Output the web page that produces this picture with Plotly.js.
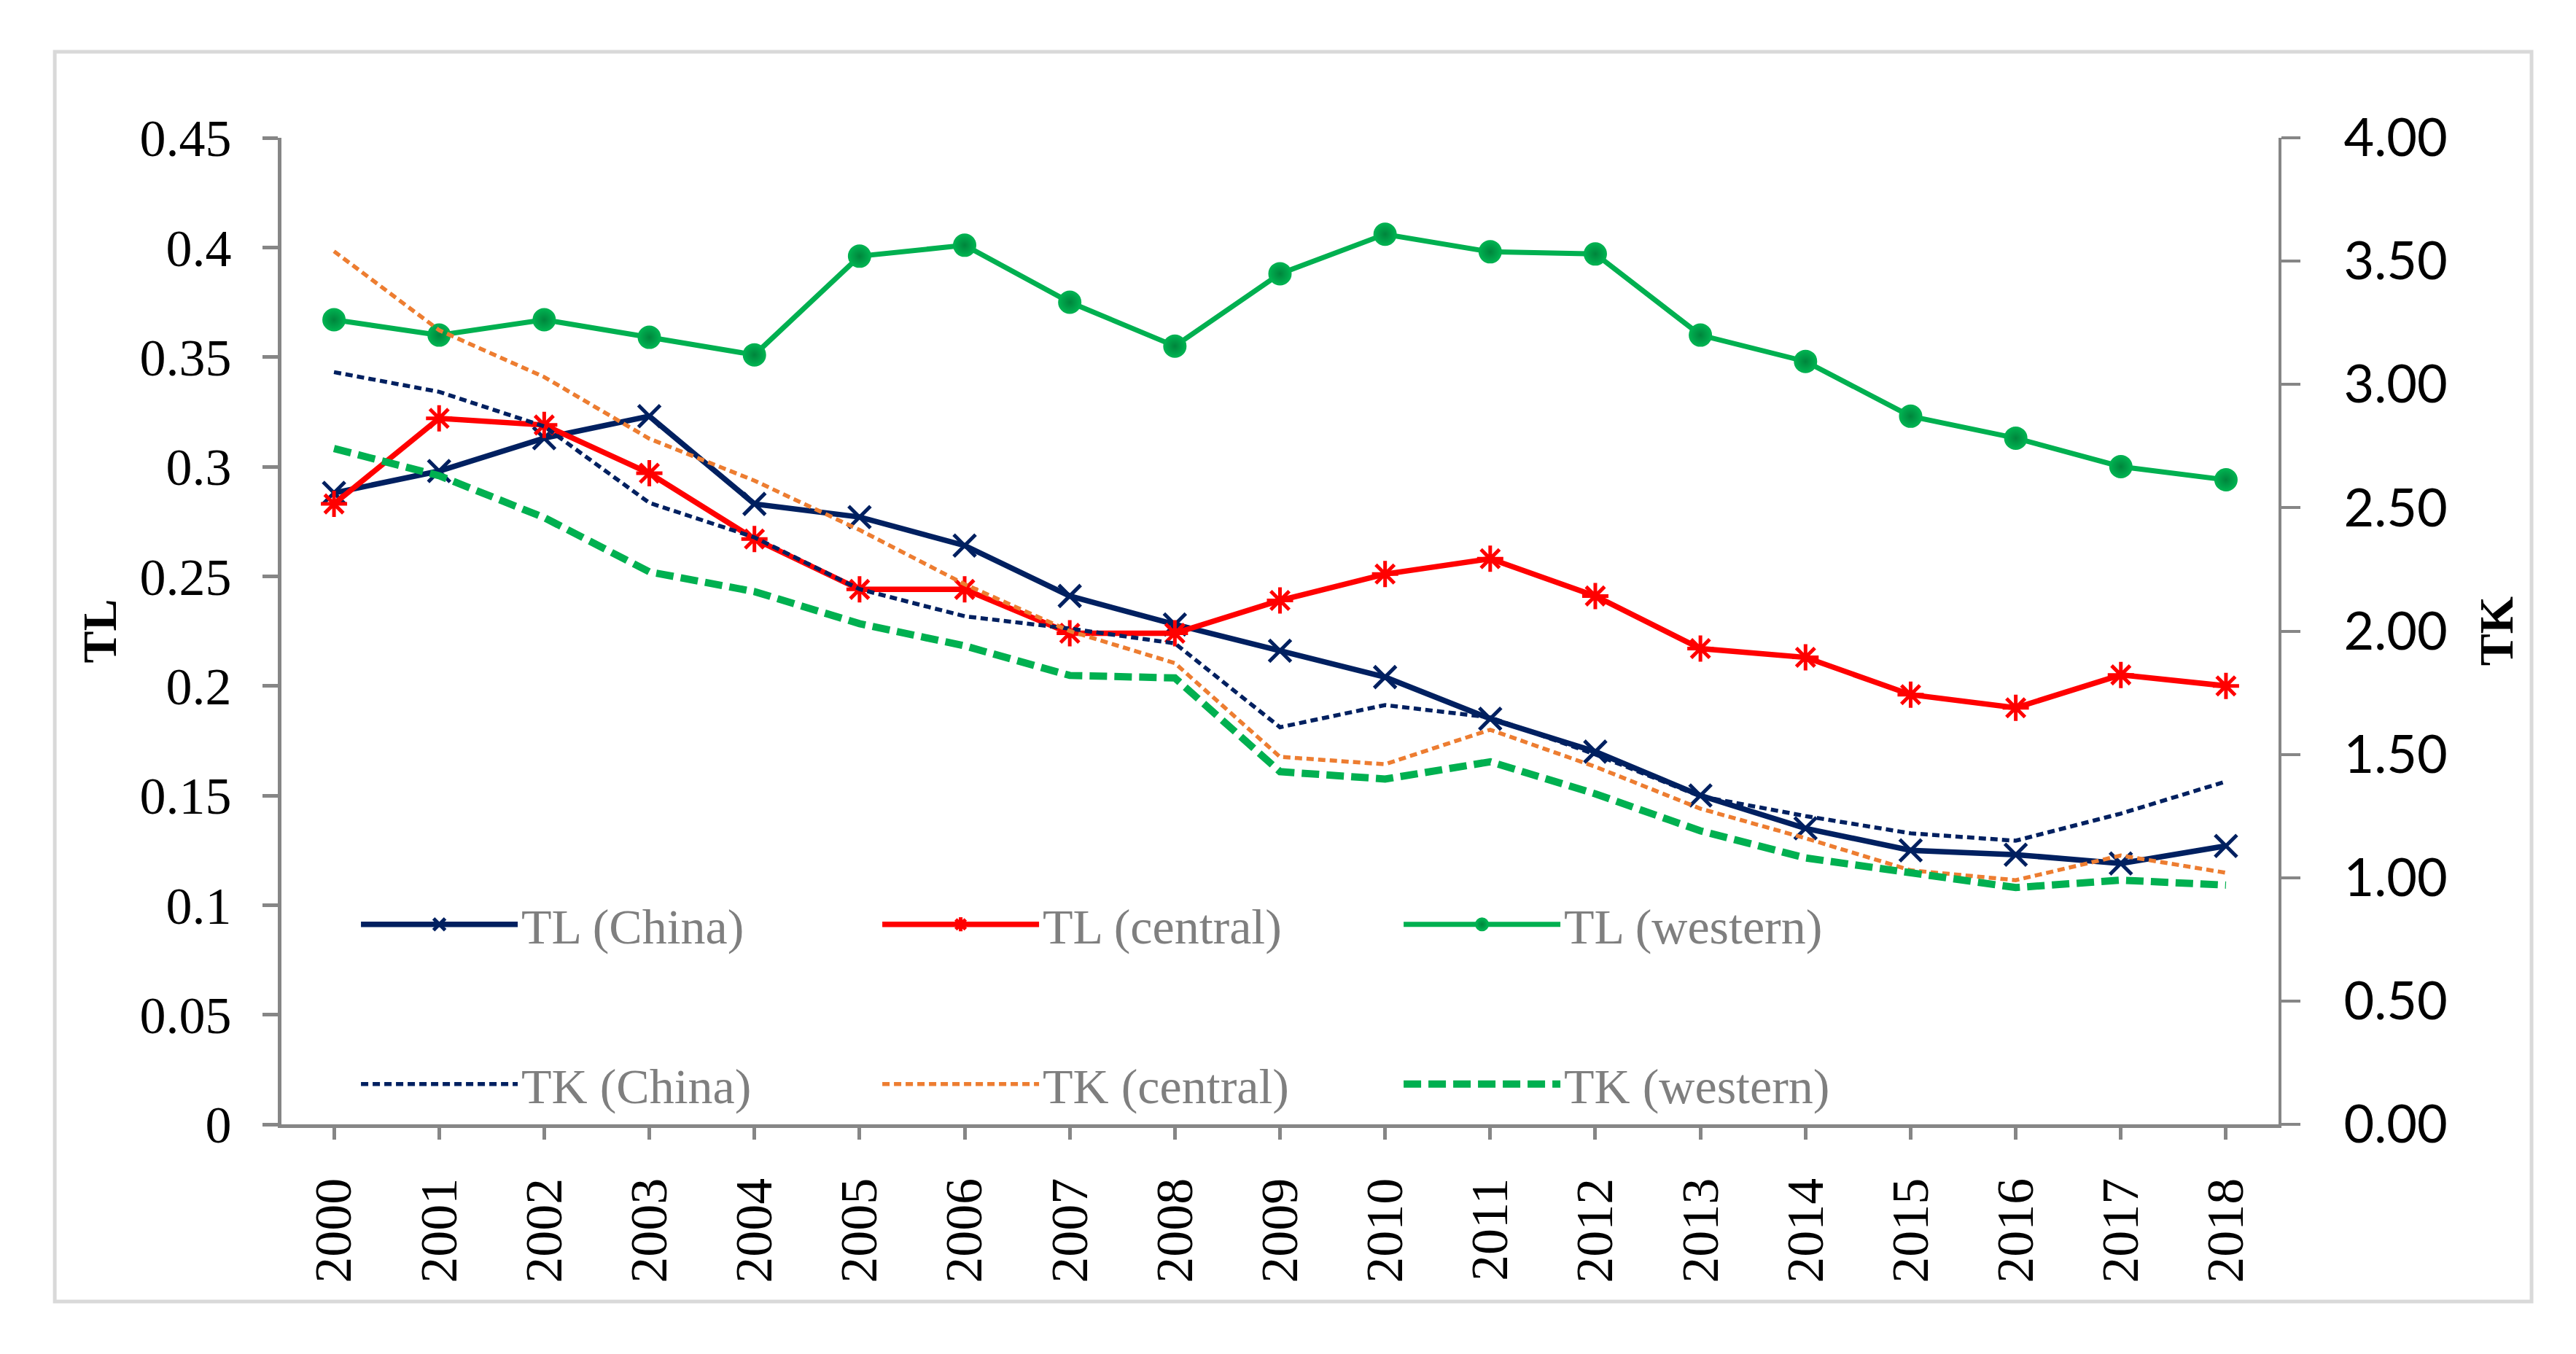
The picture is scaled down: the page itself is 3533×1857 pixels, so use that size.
<!DOCTYPE html>
<html>
<head>
<meta charset="utf-8">
<script src="https://cdn.plot.ly/plotly-3.0.1.min.js"></script>
<style>html,body{margin:0;padding:0;background:#fff;}#chart{width:3533px;height:1857px;}</style>
</head>
<body>
<div id="chart"></div>
<script>
// ---- data ----
const years = ['2000','2001','2002','2003','2004','2005','2006','2007','2008','2009','2010','2011','2012','2013','2014','2015','2016','2017','2018'];
const tlChina   = [0.288, 0.298, 0.313, 0.323, 0.283, 0.277, 0.264, 0.241, 0.228, 0.216, 0.204, 0.185, 0.170, 0.150, 0.135, 0.125, 0.123, 0.119, 0.127];
const tlCentral = [0.283, 0.322, 0.319, 0.297, 0.267, 0.244, 0.244, 0.224, 0.224, 0.239, 0.251, 0.258, 0.241, 0.217, 0.213, 0.196, 0.190, 0.205, 0.200];
const tlWestern = [0.367, 0.360, 0.367, 0.359, 0.351, 0.396, 0.401, 0.375, 0.355, 0.388, 0.406, 0.398, 0.397, 0.360, 0.348, 0.323, 0.313, 0.300, 0.294];
const tkChina   = [3.05, 2.97, 2.83, 2.52, 2.38, 2.17, 2.06, 2.01, 1.95, 1.61, 1.70, 1.65, 1.50, 1.33, 1.25, 1.18, 1.15, 1.26, 1.39];
const tkCentral = [3.54, 3.22, 3.03, 2.78, 2.61, 2.41, 2.19, 2.00, 1.87, 1.49, 1.46, 1.60, 1.45, 1.28, 1.16, 1.03, 0.99, 1.09, 1.02];
const tkWestern = [2.74, 2.63, 2.46, 2.24, 2.16, 2.03, 1.94, 1.82, 1.81, 1.43, 1.40, 1.47, 1.34, 1.19, 1.08, 1.02, 0.96, 0.99, 0.97];
const tlTickVals = [0, 0.05, 0.1, 0.15, 0.2, 0.25, 0.3, 0.35, 0.4, 0.45];
const tlTickText = ['0', '0.05', '0.1', '0.15', '0.2', '0.25', '0.3', '0.35', '0.4', '0.45'];
const tkTickVals = [0, 0.5, 1, 1.5, 2, 2.5, 3, 3.5, 4];
const tkTickText = ['0.00', '0.50', '1.00', '1.50', '2.00', '2.50', '3.00', '3.50', '4.00'];

// ---- styles ----
const NAVY = '#002060', RED = '#ff0000', GREEN = '#00b050', ORANGE = '#ed7d31';
const AXIS = '#868686';
const SERIF = 'Liberation Serif, Times New Roman, serif';

const traces = [
  {x: years, y: tlChina, name: 'TL (China)', type: 'scatter', mode: 'lines+markers', yaxis: 'y', legend: 'legend',
   line: {color: NAVY, width: 7.5}, marker: {symbol: 'x-thin', size: 30, color: NAVY, line: {color: NAVY, width: 5}}},
  {x: years, y: tlCentral, name: 'TL (central)', type: 'scatter', mode: 'lines+markers', yaxis: 'y', legend: 'legend',
   line: {color: RED, width: 7.5}, marker: {symbol: 'asterisk', size: 30, color: RED, line: {color: RED, width: 5}}},
  {x: years, y: tlWestern, name: 'TL (western)', type: 'scatter', mode: 'lines+markers', yaxis: 'y', legend: 'legend',
   line: {color: GREEN, width: 7}, marker: {symbol: 'circle', size: 29, color: GREEN,
   gradient: {type: 'radial', color: '#00853c'}, line: {color: GREEN, width: 3}}},
  {x: years, y: tkChina, name: 'TK (China)', type: 'scatter', mode: 'lines', yaxis: 'y2', legend: 'legend2',
   line: {color: NAVY, width: 5.5, dash: '10px,6px'}},
  {x: years, y: tkCentral, name: 'TK (central)', type: 'scatter', mode: 'lines', yaxis: 'y2', legend: 'legend2',
   line: {color: ORANGE, width: 5.5, dash: '10px,6px'}},
  {x: years, y: tkWestern, name: 'TK (western)', type: 'scatter', mode: 'lines', yaxis: 'y2', legend: 'legend2',
   line: {color: GREEN, width: 10, dash: '24px,10px'}}
];

const legendBase = {
  orientation: 'h', xanchor: 'left', yanchor: 'middle',
  itemwidth: 215, entrywidth: 485, entrywidthmode: 'pixels',
  bgcolor: 'rgba(0,0,0,0)', borderwidth: 0, traceorder: 'normal',
  font: {family: SERIF, size: 68, color: '#7f7f7f'}
};

const layout = {
  width: 3533, height: 1857,
  margin: {l: 386, r: 408, t: 189, b: 315, pad: 0},
  paper_bgcolor: '#ffffff', plot_bgcolor: '#ffffff',
  showlegend: true,
  legend: Object.assign({}, legendBase, {x: 0.038, y: 0.2025}),
  legend2: Object.assign({}, legendBase, {x: 0.038, y: 0.0406}),
  xaxis: {
    type: 'category', range: [-0.5, 18.5], showgrid: false, zeroline: false,
    showline: true, linecolor: AXIS, linewidth: 5,
    ticks: 'outside', ticklen: 16, tickwidth: 5, tickcolor: AXIS,
    ticklabelstandoff: 24,
    tickangle: -90, tickfont: {family: SERIF, size: 72, color: '#000'}
  },
  yaxis: {
    range: [0, 0.45], showgrid: false, zeroline: false,
    tickvals: tlTickVals, ticktext: tlTickText,
    showline: true, linecolor: AXIS, linewidth: 5,
    ticks: 'outside', ticklen: 21, tickwidth: 5, tickcolor: AXIS,
    ticklabelstandoff: 28,
    tickfont: {family: SERIF, size: 72, color: '#000'},
    title: {text: 'TL', standoff: 12, font: {family: SERIF, size: 66, color: '#000', weight: 'bold'}}
  },
  yaxis2: {
    range: [0, 4], overlaying: 'y', side: 'right', showgrid: false, zeroline: false,
    tickvals: tkTickVals, ticktext: tkTickText,
    showline: true, linecolor: AXIS, linewidth: 4,
    ticks: 'outside', ticklen: 26, tickwidth: 4, tickcolor: AXIS,
    ticklabelstandoff: 45,
    tickfont: {family: 'Lato, Open Sans, sans-serif', size: 72, color: '#000'},
    title: {text: 'TK', standoff: 45, font: {family: SERIF, size: 66, color: '#000', weight: 'bold'}}
  },
  shapes: [{
    type: 'rect', xref: 'paper', yref: 'paper',
    x0: -0.1135, x1: 1.1267, y0: -0.1796, y1: 1.0872,
    line: {color: '#d9d9d9', width: 5}, fillcolor: 'rgba(0,0,0,0)', layer: 'below'
  }]
};

Plotly.newPlot('chart', traces, layout, {staticPlot: true, displayModeBar: false});
</script>
</body>
</html>
